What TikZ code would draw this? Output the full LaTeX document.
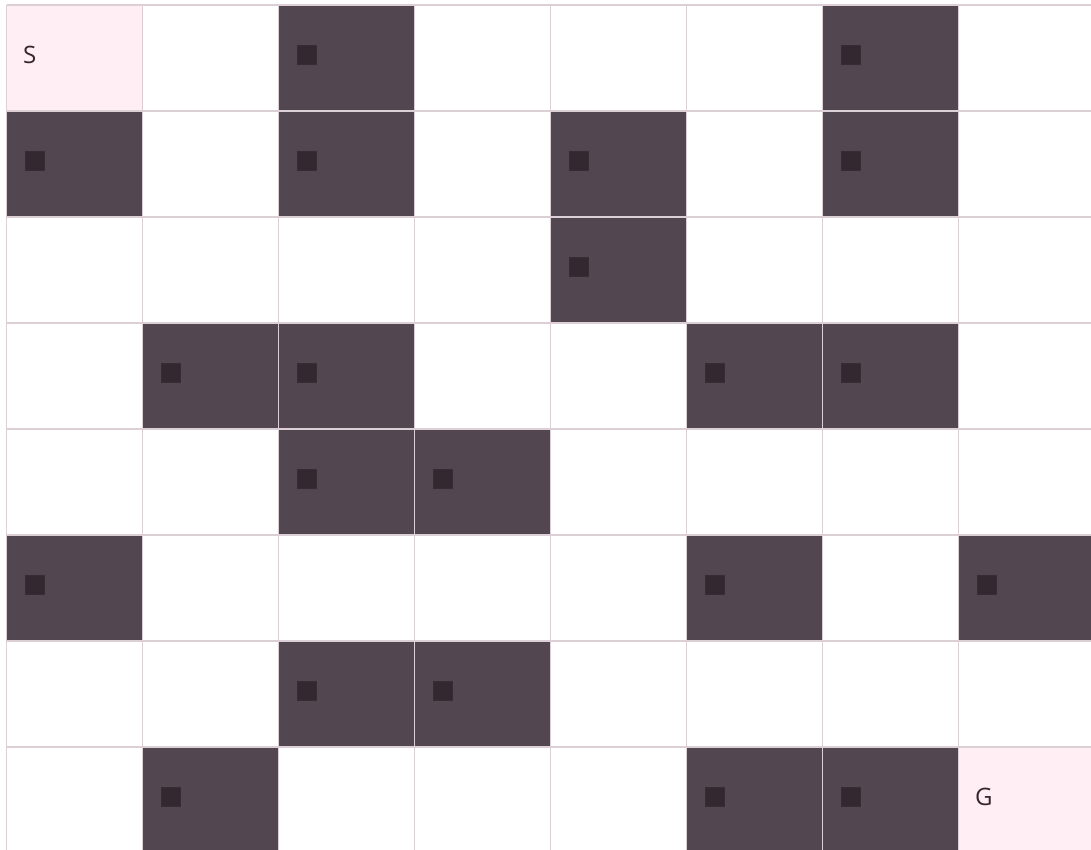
\documentclass[tikz,border=0pt]{standalone}
\usepackage{fontspec}
\setmainfont{Open Sans}
\definecolor{wallfill}{HTML}{524650}
\definecolor{markfill}{HTML}{33282F}
\definecolor{endfill}{HTML}{FFEEF3}
\definecolor{gridcol}{HTML}{DCCFD6}
\tikzset{
  gridline/.style={draw=gridcol, line width=1.8pt},
  cellmark/.style={fill=markfill, draw=markfill!85!wallfill, line width=0.8pt},
  celltext/.style={anchor=west, inner sep=0pt, font=\fontsize{24}{24}\selectfont\addfontfeature{Weight=Light}, text=markfill}
}
\begin{document}
\begin{tikzpicture}[x=1pt,y=-1pt]
  \useasboundingbox (0,0) rectangle (1091,850);
  \clip (0,0) rectangle (1091,850);

  % Start and goal cells
  \fill[endfill] (6.5,5) rectangle ++(136,106);
  \fill[endfill] (958.5,747) rectangle ++(136,106);

  % Walls (row/column)
  \foreach \r/\c in {0/2, 0/6, 1/0, 1/2, 1/4, 1/6, 2/4, 3/1, 3/2, 3/5, 3/6,
                     4/2, 4/3, 5/0, 5/5, 5/7, 6/2, 6/3, 7/1, 7/5, 7/6} {
    \fill[wallfill] (6.5+136*\c, 5+106*\r) rectangle ++(136,106);
    \filldraw[cellmark] (25.5+136*\c, 45+106*\r) rectangle ++(19,19);
  }

  % Grid lines
  \foreach \c in {0,...,8} {
    \draw[gridline] (6.5+136*\c, 5) -- (6.5+136*\c, 870);
  }
  \foreach \r in {0,...,8} {
    \draw[gridline] (6.5, 5+106*\r) -- (1100, 5+106*\r);
  }

  % Labels
  \node[celltext] (start) at (23, 55) {S};
  \node[celltext] (goal) at (975, 797) {G};
\end{tikzpicture}
\end{document}
